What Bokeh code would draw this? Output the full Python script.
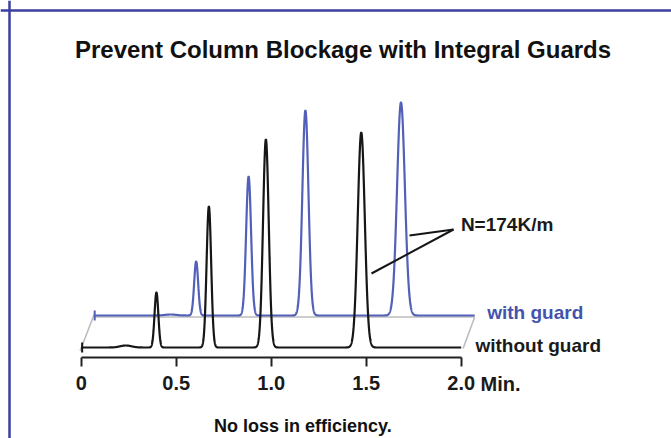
import numpy as np
from bokeh.plotting import figure
from bokeh.models import Range1d, LinearAxis, Span, FixedTicker
from bokeh.embed import file_html
from bokeh.resources import INLINE
from bokeh.core.properties import value

# ---------------- data ----------------
tick_values = [0, 0.5, 1.0, 1.5, 2.0]
tick_labels = ["0", "0.5", "1.0", "1.5", "2.0"]
axis_unit = "Min."

# without guard column (black trace): retention time (min), height, peak width (sigma, min)
without_guard_times = [0.396, 0.672, 0.972, 1.474]
without_guard_heights = [55, 141, 208, 215]
without_guard_sigmas = [0.0100, 0.0120, 0.0150, 0.0185]
# small baseline disturbance before the first peak
without_guard_bump_times = [0.235]
without_guard_bump_heights = [2.0]
without_guard_bump_sigmas = [0.03]

# with guard column (blue trace)
with_guard_times = [0.534, 0.810, 1.109, 1.612]
with_guard_heights = [54, 139, 205, 213]
with_guard_sigmas = [0.0105, 0.0130, 0.0160, 0.0205]
with_guard_bump_times = [0.40]
with_guard_bump_heights = [1.0]
with_guard_bump_sigmas = [0.03]

run_end = 2.0
title_text = "Prevent Column Blockage with Integral Guards"
footer_text = "No loss in efficiency."
annotation_text = "N=174K/m"

# ---------------- layout constants ----------------
W, H = 671, 438
PX_PER_MIN = 190.0
X0 = 80.7          # canvas x of t = 0
Y0 = 347.0         # canvas y of the black baseline
DX = 13.5 / PX_PER_MIN   # perspective shift of the back trace
DY = 32.0

BLACK = "#161616"
BLUE = "#5360b8"
BLUE_TEXT = "#4453ad"
GRAY = "#bdbdbd"
FONT = value("Liberation Sans")

p = figure(width=W, height=H, output_backend="svg", toolbar_location=None,
           x_range=Range1d(-X0 / PX_PER_MIN, (W - X0) / PX_PER_MIN),
           y_range=Range1d(-(H - Y0), Y0),
           x_axis_location=None, y_axis_location=None, min_border=0,
           tools="")
p.outline_line_color = None
p.grid.visible = False
p.background_fill_color = "white"


def trace(times, heights, sigmas, bt, bh, bs):
    t = np.linspace(0, run_end, 4001)
    y = np.zeros_like(t)
    for c, h, s in zip(list(times) + list(bt), list(heights) + list(bh), list(sigmas) + list(bs)):
        y += h * np.exp(-0.5 * ((t - c) / s) ** 2)
    return t, y


# floor (perspective plane)
p.line([0 + DX, run_end + DX], [DY - 1.5, DY - 1.5], line_color=GRAY, line_width=1.6)
p.line([-0.006, DX - 0.003], [-3.5, DY + 1], line_color=GRAY, line_width=1.6)
p.line([run_end + 0.01, run_end + DX], [-1, DY - 1.5], line_color=GRAY, line_width=1.6)

# back trace: with guard
tb, yb = trace(with_guard_times, with_guard_heights, with_guard_sigmas,
               with_guard_bump_times, with_guard_bump_heights, with_guard_bump_sigmas)
p.line(tb + DX, yb + DY, line_color=BLUE, line_width=2.2)
p.segment(x0=[DX], y0=[DY - 5], x1=[DX], y1=[DY + 5], line_color=BLUE, line_width=2)

# front trace: without guard
tf, yf = trace(without_guard_times, without_guard_heights, without_guard_sigmas,
               without_guard_bump_times, without_guard_bump_heights, without_guard_bump_sigmas)
p.line(tf, yf, line_color=BLACK, line_width=2.2)
p.segment(x0=[0.005], y0=[-5], x1=[0.005], y1=[5], line_color=BLACK, line_width=2)

# time axis
ax = LinearAxis(fixed_location=-10, bounds=(0, run_end),
                ticker=FixedTicker(ticks=tick_values),
                major_label_overrides={v: s for v, s in zip(tick_values, tick_labels)})
ax.axis_line_color = "#222222"
ax.axis_line_width = 2
ax.major_tick_line_color = "#222222"
ax.major_tick_line_width = 2
ax.major_tick_out = 9
ax.major_tick_in = 0
ax.minor_tick_line_color = None
ax.major_label_text_font = "Liberation Sans"
ax.major_label_text_font_style = "bold"
ax.major_label_text_font_size = "20px"
ax.major_label_text_color = "#1a1a1a"
ax.major_label_standoff = 9
p.add_layout(ax, "below")

p.text(x=[run_end + 0.1016], y=[-36], text=[axis_unit], text_font=FONT, text_font_style="bold",
       text_font_size="20px", text_color="#1a1a1a", text_baseline="middle", text_align="left")

# annotation N=174K/m
p.line([1.9595, 1.7279], [118, 112], line_color=BLACK, line_width=2)
p.line([1.9595, 1.5279], [118, 74], line_color=BLACK, line_width=2)
p.text(x=[1.9984], y=[123], text=[annotation_text], text_font=FONT, text_font_style="bold",
       text_font_size="19px", text_color="#1a1a1a", text_baseline="middle", text_align="left")

# trace labels
p.text(x=[2.137], y=[35.3], text=["with guard"], text_font=FONT, text_font_style="bold",
       text_font_size="19px", text_color=BLUE_TEXT, text_baseline="middle", text_align="left")
p.text(x=[2.075], y=[2], text=["without guard"], text_font=FONT, text_font_style="bold",
       text_font_size="19px", text_color="#1a1a1a", text_baseline="middle", text_align="left")

# title and footer
p.text(x=[1.378], y=[298], text=[title_text], text_font=FONT,
       text_font_style="bold", text_font_size="24px", text_color="#111111",
       text_baseline="middle", text_align="center")
p.text(x=[1.167], y=[-78], text=[footer_text], text_font=FONT,
       text_font_style="bold", text_font_size="18px", text_color="#111111",
       text_baseline="middle", text_align="center")

# frame border (top and left)
p.add_layout(Span(location=Y0 - 10, dimension="width", line_color="#3b3fa0", line_width=2.5))
p.add_layout(Span(location=(9 - X0) / PX_PER_MIN, dimension="height", line_color="#3b3fa0",
                  line_width=2.5))

open("out.html", "w").write(file_html(p, INLINE))
